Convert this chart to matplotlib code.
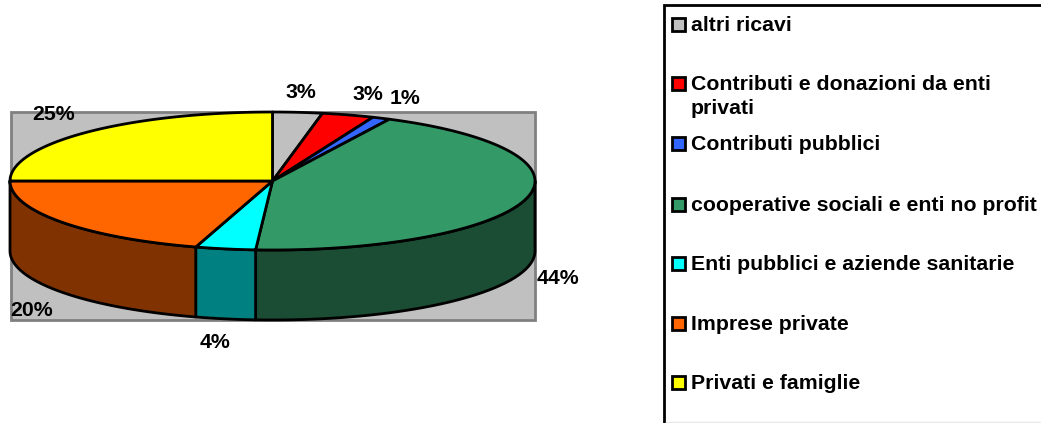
#!/usr/bin/env python3
import numpy as np
import matplotlib
matplotlib.use('Agg')
import matplotlib.pyplot as plt
from matplotlib.patches import Rectangle

plt.rcParams['font.family'] = ['Liberation Sans', 'DejaVu Sans']

categories = ['altri ricavi', 'Contributi e donazioni da enti\nprivati', 'Contributi pubblici',
              'cooperative sociali e enti no profit', 'Enti pubblici e aziende sanitarie',
              'Imprese private', 'Privati e famiglie']
# slice sizes, labels as printed
shares = [3.05, 3.2, 1.1, 43.7, 3.7, 20.3, 25.0]
pct_labels = ['3%', '3%', '1%', '44%', '4%', '20%', '25%']
top_colors = ['#C0C0C0', '#FF0000', '#3366FF', '#339966', '#00FFFF', '#FF6600', '#FFFF00']
side_colors = ['#606060', '#800000', '#1A3380', '#1A4D33', '#008080', '#803300', '#808000']

# pixel layout
cx, cy, rx, ry, depth = 272.5, 181, 262.5, 69, 70
label_pos = [(301, 93), (368, 95), (405, 98), (558, 278), (215, 342), (32, 311), (54, 115)]
legend_y = [24, 83, 143, 204, 263, 323, 382]
font_size = 15.3 * 0.72 * 100 / 72

fig = plt.figure(figsize=(10.41, 4.23), dpi=100)
ax = fig.add_axes([0, 0, 1, 1])
ax.set_xlim(0, 1041)
ax.set_ylim(423, 0)
ax.axis('off')

# gray plot area behind the pie
ax.add_patch(Rectangle((10.5, 112), 524, 208, facecolor='#C0C0C0', edgecolor='#808080', lw=2, zorder=1))

# clockwise from twelve o'clock
edges = np.radians(np.concatenate([[0], np.cumsum(shares)]) / np.sum(shares) * 360)

def rim(t, dy=0):
    return cx + rx * np.sin(t), cy - ry * np.cos(t) + dy

# front wall, only the part with angle between 90 and 270 deg is visible
for a, b, c in zip(edges[:-1], edges[1:], side_colors):
    lo, hi = max(a, np.pi / 2), min(b, 3 * np.pi / 2)
    if lo >= hi:
        continue
    t = np.linspace(lo, hi, 120)
    x1, y1 = rim(t)
    x2, y2 = rim(t[::-1], depth)
    ax.fill(np.r_[x1, x2], np.r_[y1, y2], facecolor=c, edgecolor='black', lw=2, joinstyle='round', zorder=2)

# top face
for a, b, c in zip(edges[:-1], edges[1:], top_colors):
    t = np.linspace(a, b, 120)
    x, y = rim(t)
    ax.fill(np.r_[cx, x], np.r_[cy, y], facecolor=c, edgecolor='black', lw=2, joinstyle='round', zorder=3)

for (x, y), s in zip(label_pos, pct_labels):
    ax.text(x, y, s, fontsize=font_size, fontweight='bold', ha='center', va='center', zorder=5)

# legend box runs off the right and bottom edges of the image
ax.add_patch(Rectangle((664, 5), 400, 440, facecolor='white', edgecolor='black', lw=2, zorder=1))
ax.plot([666, 1041], [422.5, 422.5], color='#e8e8e8', lw=1, zorder=2)
for y, name, c in zip(legend_y, categories, top_colors):
    ax.add_patch(Rectangle((672, y - 6), 12.5, 13, facecolor=c, edgecolor='black', lw=2, zorder=3))
    ax.text(691, y - 8, name, fontsize=font_size, fontweight='bold', va='top', ha='left',
            linespacing=1.33, zorder=3)

fig.savefig('out.png', dpi=100)
